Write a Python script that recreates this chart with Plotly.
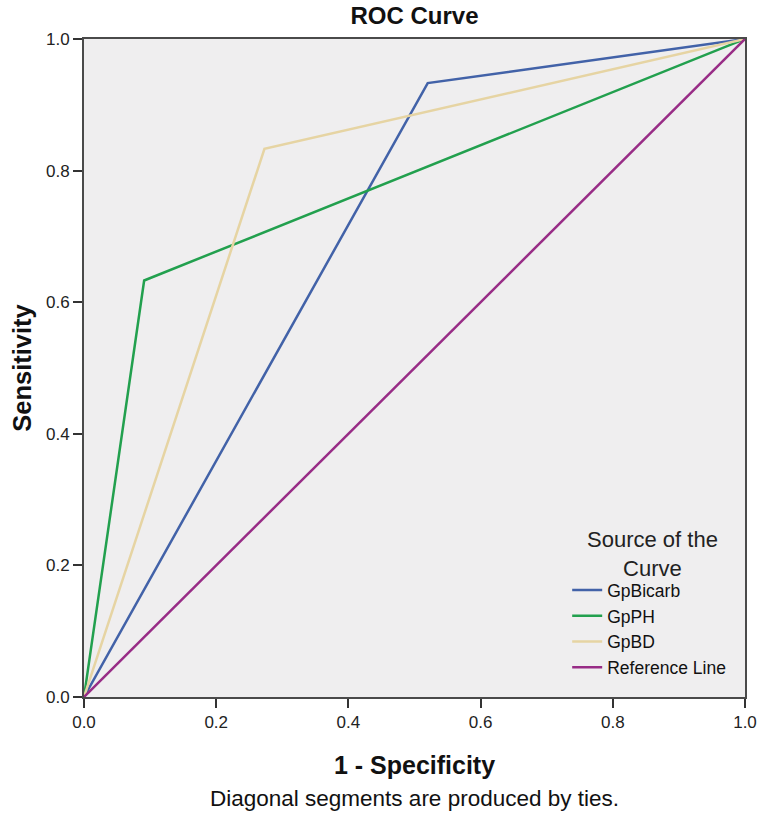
import plotly.graph_objects as go

# Data (1 - Specificity, Sensitivity)
series_names = ["GpBicarb", "GpPH", "GpBD", "Reference Line"]
bicarb_x = [0.0, 0.52, 1.0]
bicarb_y = [0.0, 0.933, 1.0]
ph_x = [0.0, 0.091, 1.0]
ph_y = [0.0, 0.633, 1.0]
bd_x = [0.0, 0.273, 1.0]
bd_y = [0.0, 0.833, 1.0]
ref_x = [0.0, 1.0]
ref_y = [0.0, 1.0]
tick_vals = [0.0, 0.2, 0.4, 0.6, 0.8, 1.0]
tick_text = ["0.0", "0.2", "0.4", "0.6", "0.8", "1.0"]

colors = ["#4262A8", "#22A04E", "#E6D4A3", "#982C86"]
FONT = "Liberation Sans, Arial, sans-serif"

fig = go.Figure()
for name, xs, ys, c in zip(series_names,
                           [bicarb_x, ph_x, bd_x, ref_x],
                           [bicarb_y, ph_y, bd_y, ref_y],
                           colors):
    fig.add_trace(go.Scatter(x=xs, y=ys, mode="lines", name=name,
                             line=dict(color=c, width=2.5)))

axis_common = dict(
    range=[0, 1], tickvals=tick_vals, ticktext=tick_text,
    showgrid=False, zeroline=False, showline=True, linecolor="#4a4a4a",
    linewidth=2, mirror=True, ticks="outside", ticklen=9, tickwidth=2,
    tickcolor="#333333", tickfont=dict(family=FONT, size=17, color="#222222"),
    ticklabeloverflow="allow",
)

W, H = 762, 815
fig.update_layout(
    width=W, height=H,
    margin=dict(l=84, r=17, t=39, b=118),
    paper_bgcolor="white", plot_bgcolor="#EFEEEF",
    font=dict(family=FONT, color="#222222"),
    title=dict(text="<b>ROC Curve</b>", x=(84 + 745) / 2 / W, xanchor="center",
               xref="container", yref="container", y=1 - 16 / H,
               yanchor="middle", automargin=False,
               font=dict(family=FONT, size=24, color="#111111")),
    xaxis=dict(**axis_common, automargin=False,
               title=dict(text="<b>1 - Specificity</b>", standoff=25,
                          font=dict(family=FONT, size=25, color="#111111"))),
    yaxis=dict(**axis_common, automargin=True,
               title=dict(text="<b>Sensitivity</b>", standoff=7,
                          font=dict(family=FONT, size=25.5, color="#111111"))),
    legend=dict(x=0.731, xanchor="left", y=0.018, yanchor="bottom",
                bgcolor="rgba(0,0,0,0)", borderwidth=0,
                font=dict(family=FONT, size=17.5, color="#111111"),
                itemwidth=30),
    showlegend=True,
)

fig.add_annotation(text="Source of the<br>Curve", xref="paper", yref="paper",
                   x=(652 - 84) / 661, y=(697 - 554) / 658, xanchor="center",
                   yanchor="middle", align="center", showarrow=False,
                   font=dict(family=FONT, size=22, color="#222222"))

fig.add_annotation(text="Diagonal segments are produced by ties.",
                   xref="paper", yref="paper", x=0.5, y=-(798 - 697) / 658,
                   xanchor="center", yanchor="middle", showarrow=False,
                   font=dict(family=FONT, size=22.5, color="#111111"))

# Remove the page's default 8px body margin so the figure fills the window.
fig.write_html("out.html", config={"displayModeBar": False},
               post_script="document.body.style.margin='0';")
